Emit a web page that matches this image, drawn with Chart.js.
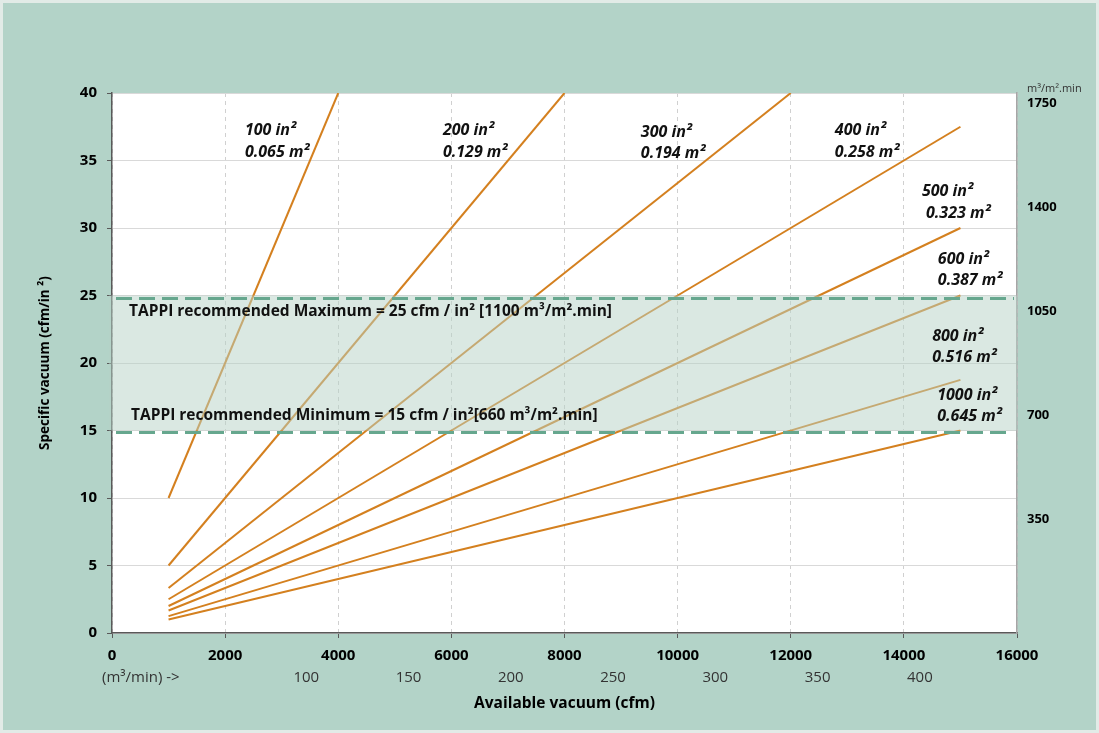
<!DOCTYPE html>
<html>
<head>
<meta charset="utf-8">
<script src="https://cdn.jsdelivr.net/npm/chart.js@4.4.0/dist/chart.umd.min.js"></script>
<style>
  html, body { margin: 0; padding: 0; background: #e2ebe7; }
  #wrap { width: 1099px; height: 733px; position: relative; }
</style>
</head>
<body>
<div id="wrap"><canvas id="vacuumChart"></canvas></div>
<script>
// areas of the suction box, one line per area
const areasIn2 = [100, 200, 300, 400, 500, 600, 800, 1000];
const areasM2 = ['0.065', '0.129', '0.194', '0.258', '0.323', '0.387', '0.516', '0.645'];

// each line: start and end point (cfm, cfm/in²)
const lineStartX = [1000, 1000, 1000, 1000, 1000, 1000, 1000, 1000];
const lineStartY = [10, 5, 3.33, 2.5, 2, 1.67, 1.25, 1];
const lineEndX = [4000, 8000, 12000, 15000, 15000, 15000, 15000, 15000];
const lineEndY = [40, 40, 40, 37.5, 30, 25, 18.75, 15];

// TAPPI recommended range (cfm/in²)
const tappiMin = 15;
const tappiMax = 25;
const tappiMaxText = 'TAPPI recommended Maximum = 25 cfm / in² [1100 m³/m².min]';
const tappiMinText = 'TAPPI recommended Minimum = 15 cfm / in²[660 m³/m².min]';

// secondary tick labels
const rightTicks = [350, 700, 1050, 1400, 1750];   // m³/m².min
const flowTicks = [100, 150, 200, 250, 300, 350, 400]; // m³/min

// where the area labels sit (cfm, cfm/in²)
const labelX = [2350, 5850, 9350, 12780, 14320, 14600, 14500, 14590];
const labelY = [37.2, 37.2, 37.1, 37.2, 32.7, 27.7, 22.0, 17.6];

const lineColor = '#d4801f';
const FONT = '"Open Sans", "Noto Sans", sans-serif';
const plain = v => String(v);

const datasets = areasIn2.map((a, i) => ({
    label: a + ' in²',
    data: [{x: lineStartX[i], y: lineStartY[i]}, {x: lineEndX[i], y: lineEndY[i]}],
    borderColor: lineColor,
    borderWidth: 2,
    pointRadius: 0,
    fill: false,
    tension: 0
}));

const tappiPlugin = {
    id: 'tappi',
    beforeDraw(chart) {
        const {ctx, chartArea: ca, width, height} = chart;
        ctx.save();
        ctx.fillStyle = '#e2ebe7';
        ctx.fillRect(0, 0, width, height);
        ctx.fillStyle = '#b3d3c8';
        ctx.fillRect(3, 3, width - 6, height - 6);
        ctx.fillStyle = '#ffffff';
        ctx.fillRect(ca.left, ca.top, ca.right - ca.left, ca.bottom - ca.top);
        ctx.restore();
    },
    afterDatasetsDraw(chart) {
        const {ctx, chartArea: ca} = chart;
        const x = chart.scales.x, y = chart.scales.y, y2 = chart.scales.y2;
        const yTop = y.getPixelForValue(tappiMax);
        const yBot = y.getPixelForValue(tappiMin);
        ctx.save();

        // recommended band, over the lines
        ctx.fillStyle = 'rgba(181, 209, 197, 0.5)';
        ctx.fillRect(ca.left - 3, yTop, ca.right - ca.left + 3, yBot - yTop);

        ctx.strokeStyle = '#66a78e';
        ctx.lineWidth = 3;
        ctx.setLineDash([16, 7]);
        ctx.beginPath();
        ctx.moveTo(ca.left + 4, yTop + 3);
        ctx.lineTo(ca.right - 3, yTop + 3);
        ctx.moveTo(ca.left + 4, yBot + 2);
        ctx.lineTo(ca.right - 10, yBot + 2);
        ctx.stroke();
        ctx.setLineDash([]);

        ctx.fillStyle = '#111';
        ctx.textBaseline = 'middle';
        ctx.textAlign = 'left';
        ctx.font = 'bold 15.5px ' + FONT;
        ctx.fillText(tappiMaxText, ca.left + 17, yTop + 16);
        ctx.fillText(tappiMinText, ca.left + 19, yBot - 15);

        // area labels
        ctx.font = 'italic bold 16px ' + FONT;
        areasIn2.forEach((a, i) => {
            const px = x.getPixelForValue(labelX[i]);
            const py = y.getPixelForValue(labelY[i]);
            ctx.fillText(a + ' in²', px, py);
            ctx.fillText(areasM2[i] + ' m²', px + (i === 4 ? 4 : 0), py + 21.5);
        });

        // unit texts of the secondary axes
        ctx.font = '11px ' + FONT;
        ctx.fillStyle = '#333';
        ctx.fillText('m³/m².min', y2.left + 10, ca.top - 4);
        ctx.font = '15px ' + FONT;
        ctx.fillText('(m³/min) ->', ca.left - 10, ca.bottom + 45);
        ctx.restore();
    }
};

new Chart(document.getElementById('vacuumChart'), {
    type: 'line',
    data: { datasets: datasets },
    options: {
        responsive: true,
        maintainAspectRatio: false,
        animation: false,
        layout: { padding: { top: 93, left: 0, right: 0, bottom: 0 } },
        plugins: {
            legend: { display: false },
            tooltip: { enabled: false }
        },
        scales: {
            x: {
                type: 'linear',
                position: 'bottom',
                weight: 0,
                min: 0,
                max: 16000,
                ticks: {
                    stepSize: 2000,
                    autoSkip: false,
                    maxRotation: 0,
                    padding: 9,
                    color: '#000',
                    callback: plain,
                    font: { family: FONT, size: 15, weight: 'bold' }
                },
                grid: {
                    color: '#d0d0d0',
                    tickColor: '#595959',
                    tickLength: 5,
                    tickBorderDash: []
                },
                border: { color: '#595959', width: 1.5, dash: [4, 4] },
                afterFit(scale) { scale.height = 28; }
            },
            x2: {
                type: 'linear',
                position: 'bottom',
                weight: 1,
                min: 5,
                max: 447.5,
                afterBuildTicks(scale) { scale.ticks = flowTicks.map(v => ({value: v})); },
                ticks: {
                    autoSkip: false,
                    maxRotation: 0,
                    padding: 8,
                    color: '#333',
                    callback: plain,
                    font: { family: FONT, size: 15 }
                },
                grid: { drawOnChartArea: false, drawTicks: false },
                border: { display: false },
                title: {
                    display: true,
                    text: 'Available vacuum (cfm)',
                    color: '#000',
                    font: { family: FONT, size: 15.5, weight: 'bold' },
                    padding: { top: 0, bottom: 20 }
                },
                afterFit(scale) { scale.height = 72; }
            },
            y: {
                type: 'linear',
                position: 'left',
                min: 0,
                max: 40,
                ticks: {
                    stepSize: 5,
                    padding: 10,
                    color: '#000',
                    callback: plain,
                    font: { family: FONT, size: 15, weight: 'bold' }
                },
                grid: {
                    color: '#d9d9d9',
                    tickColor: '#595959',
                    tickLength: 5
                },
                border: { color: '#595959', width: 1.5 },
                title: {
                    display: true,
                    text: 'Specific vacuum (cfm/in ²)',
                    color: '#000',
                    font: { family: FONT, size: 13.5, weight: 'bold' },
                    padding: { top: 37, bottom: 0 }
                },
                afterFit(scale) { scale.width = 112; }
            },
            y2: {
                type: 'linear',
                position: 'right',
                min: -33.9,
                max: 1783.7,
                afterBuildTicks(scale) { scale.ticks = rightTicks.map(v => ({value: v})); },
                ticks: {
                    padding: 10,
                    color: '#000',
                    callback: plain,
                    font: { family: FONT, size: 13, weight: 'bold' }
                },
                grid: { drawOnChartArea: false, drawTicks: false },
                border: { color: '#a6a6a6', width: 1.5 },
                afterFit(scale) { scale.width = 82; }
            }
        }
    },
    plugins: [tappiPlugin]
});
</script>
</body>
</html>
